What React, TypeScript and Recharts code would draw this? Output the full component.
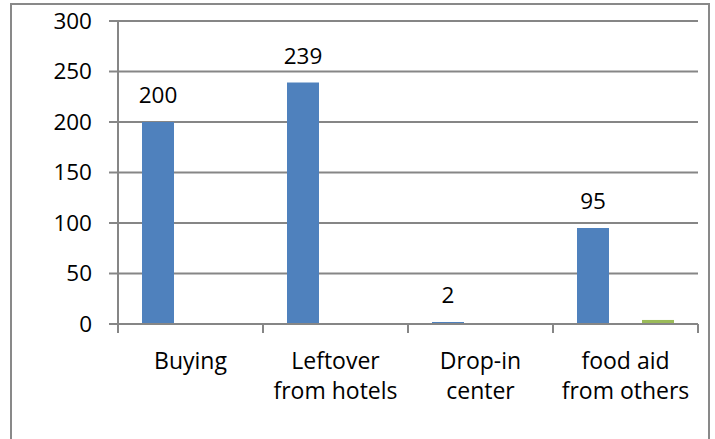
import React from 'react';
import { BarChart, Bar, XAxis, YAxis, CartesianGrid, LabelList } from 'recharts';

const categorias = ['Buying', 'Leftover\nfrom hotels', 'Drop-in\ncenter', 'food aid\nfrom others'];
const serieAzul = [200, 239, 2, 95];
const serieVerde = [0, 0, 0, 4];
const ticksY = [0, 50, 100, 150, 200, 250, 300];

const datos = categorias.map((cat, i) => ({
  cat,
  azul: serieAzul[i],
  verde: serieVerde[i],
}));

const FUENTE = '"Open Sans", sans-serif';
const GRIS = '#868686';

// etiqueta encima de la barra azul
const renderEtiqueta = (props: unknown) => {
  const { x, y, width, value } = props as { x: number; y: number; width: number; value: number };
  return (
    <text x={x + width / 2} y={y - 19} textAnchor="middle" fill="#000" fontSize={22.5} fontFamily={FUENTE}>
      {value}
    </text>
  );
};

// tick de categoría estilo Excel: marca en los límites y texto en dos líneas
const TickCategoria = (props: unknown) => {
  const { x, y, payload, index, visibleTicksCount } = props as {
    x: number;
    y: number;
    payload: { value: string; offset?: number };
    index: number;
    visibleTicksCount: number;
  };
  const half = payload.offset ?? 72.5;
  const lineas = String(payload.value).split('\n');
  const ultimo = index === (visibleTicksCount ?? 4) - 1;
  return (
    <g>
      <line x1={x - half} x2={x - half} y1={y} y2={y + 9} stroke={GRIS} strokeWidth={2} />
      {ultimo && <line x1={x + half} x2={x + half} y1={y} y2={y + 9} stroke={GRIS} strokeWidth={2} />}
      <text x={x} y={y + 45} textAnchor="middle" fill="#000" fontSize={23} fontFamily={FUENTE}>
        {lineas.map((l, i) => (
          <tspan key={i} x={x} dy={i === 0 ? 0 : 30}>
            {l}
          </tspan>
        ))}
      </text>
    </g>
  );
};

export default function App() {
  return (
    <div style={{ position: 'absolute', left: 0, top: 0, width: 715, height: 439, background: '#fff', overflow: 'hidden' }}>
      <div
        style={{
          position: 'absolute',
          left: 10,
          top: 3,
          width: 700,
          height: 470,
          border: '2px solid #898989',
          boxSizing: 'border-box',
        }}
      />
      <div style={{ position: 'absolute', left: 0, top: 0 }}>
        <BarChart
          width={715}
          height={439}
          data={datos}
          margin={{ top: 21, right: 17, left: 0, bottom: 0 }}
          barSize={32}
          barGap={33}
          barCategoryGap={24}
        >
          <CartesianGrid horizontal vertical={false} stroke={GRIS} strokeWidth={2} />
          <XAxis
            dataKey="cat"
            height={115}
            axisLine={{ stroke: GRIS, strokeWidth: 2 }}
            tickLine={false}
            tickSize={0}
            tickMargin={0}
            interval={0}
            tick={TickCategoria}
          />
          <YAxis
            domain={[0, 300]}
            ticks={ticksY}
            width={118}
            axisLine={{ stroke: GRIS, strokeWidth: 2 }}
            tickLine={{ stroke: GRIS, strokeWidth: 2 }}
            tickSize={9}
            tickMargin={17}
            tick={{ fill: '#000', fontSize: 22.5, fontFamily: FUENTE }}
          />
          <Bar dataKey="azul" fill="#4F81BD" isAnimationActive={false}>
            <LabelList dataKey="azul" content={renderEtiqueta} />
          </Bar>
          <Bar dataKey="verde" fill="#9BBB59" isAnimationActive={false} />
        </BarChart>
      </div>
    </div>
  );
}
